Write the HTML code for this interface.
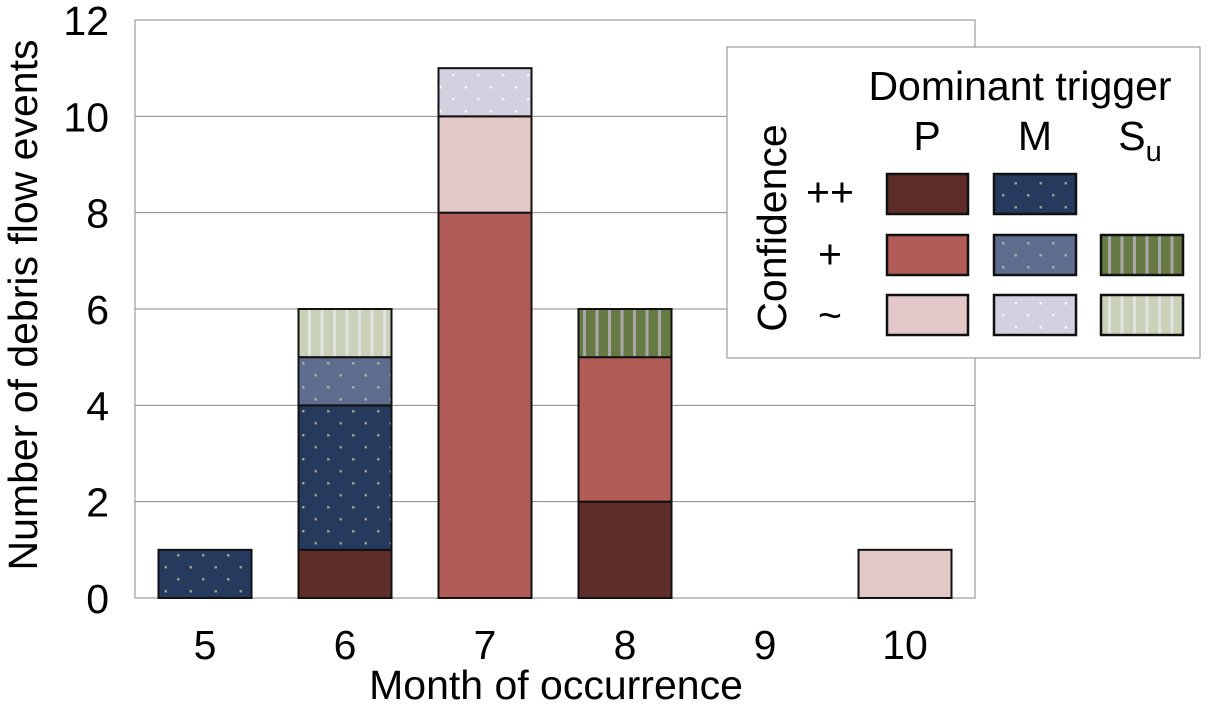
<!DOCTYPE html>
<html><head><meta charset="utf-8">
<style>
body{margin:0;background:#fff;}
svg{display:block;font-family:"Liberation Sans",Arial,sans-serif;}
</style></head>
<body>
<svg id="chart" width="1215" height="705" viewBox="0 0 1215 705">
<defs>
  <pattern id="dotDark" width="25" height="24" patternUnits="userSpaceOnUse">
    <rect width="25" height="24" fill="#263a5e"/>
    <rect x="2" y="2" width="2.5" height="2.5" fill="#9a9a8a"/>
    <rect x="14.5" y="14" width="2.5" height="2.5" fill="#9a9a8a"/>
  </pattern>
  <pattern id="dotMid" width="25" height="24" patternUnits="userSpaceOnUse">
    <rect width="25" height="24" fill="#5e6d8e"/>
    <rect x="2" y="2" width="2.5" height="2.5" fill="#a9a9a9"/>
    <rect x="14.5" y="14" width="2.5" height="2.5" fill="#a9a9a9"/>
  </pattern>
  <pattern id="dotLight" width="25" height="24" patternUnits="userSpaceOnUse">
    <rect width="25" height="24" fill="#d1d1e0"/>
    <rect x="2" y="2" width="2.5" height="2.5" fill="#f4f4f4"/>
    <rect x="14.5" y="14" width="2.5" height="2.5" fill="#f4f4f4"/>
  </pattern>
  <pattern id="stripeMid" width="12.5" height="10" patternUnits="userSpaceOnUse">
    <rect width="12.5" height="10" fill="#677a43"/>
    <rect x="8" width="3" height="10" fill="#a8a8a8"/>
  </pattern>
  <pattern id="stripeLight" width="12.5" height="10" patternUnits="userSpaceOnUse">
    <rect width="12.5" height="10" fill="#c9d2b8"/>
    <rect x="8" width="3" height="10" fill="#e2e2e2"/>
  </pattern>
</defs>
<g id="grid"></g>
<g id="bars"></g>
<g id="axes"></g>
<g id="legend">
  <rect x="727" y="47" width="473" height="311" fill="#fff" stroke="#8a8a8a" stroke-width="1"/>
  <text x="1020" y="100" font-size="41" text-anchor="middle">Dominant trigger</text>
  <text x="927" y="150" font-size="41" text-anchor="middle">P</text>
  <text x="1035" y="150" font-size="41" text-anchor="middle">M</text>
  <text x="1140" y="150" font-size="41" text-anchor="middle">S<tspan font-size="29" dy="11">u</tspan></text>
  <text transform="translate(786,228) rotate(-90)" font-size="41" text-anchor="middle">Confidence</text>
  <text x="830" y="206" font-size="41" text-anchor="middle">++</text>
  <text x="830" y="268" font-size="41" text-anchor="middle">+</text>
  <text x="830" y="329" font-size="41" text-anchor="middle">~</text>
  <g stroke="#111" stroke-width="2.5">
    <rect x="887" y="174" width="81" height="40" fill="#5e2d2a"/>
    <rect x="994" y="174" width="82" height="40" fill="url(#dotDark)"/>
    <rect x="887" y="235" width="81" height="40" fill="#b25c58"/>
    <rect x="994" y="235" width="82" height="40" fill="url(#dotMid)"/>
    <rect x="1101" y="235" width="82" height="40" fill="url(#stripeMid)"/>
    <rect x="887" y="295" width="81" height="40" fill="#e2c9c8"/>
    <rect x="994" y="295" width="82" height="40" fill="url(#dotLight)"/>
    <rect x="1101" y="295" width="82" height="40" fill="url(#stripeLight)"/>
  </g>
</g>
<text x="556" y="699" font-size="41" text-anchor="middle">Month of occurrence</text>
<text transform="translate(37,305) rotate(-90)" font-size="41" text-anchor="middle">Number of debris flow events</text>
</svg>
<script>
const months = ["5","6","7","8","9","10"];
const pHigh = [0,1,0,2,0,0];
const pMed  = [0,0,8,3,0,0];
const pLow  = [0,0,2,0,0,1];
const mHigh = [1,3,0,0,0,0];
const mMed  = [0,1,0,0,0,0];
const mLow  = [0,0,1,0,0,0];
const sMed  = [0,0,0,1,0,0];
const sLow  = [0,1,0,0,0,0];
const yTicks = [0,2,4,6,8,10,12];

const NS="http://www.w3.org/2000/svg";
const X0=135,X1=975,Y0=598,Y1=20,YMAX=12;
const band=(X1-X0)/months.length, barW=93;
const y=v=>Y0-(v/YMAX)*(Y0-Y1);
const xc=i=>X0+band*(i+0.5);
function mk(tag,attrs,parent){const e=document.createElementNS(NS,tag);for(const k in attrs)e.setAttribute(k,attrs[k]);parent.appendChild(e);return e;}
const grid=document.getElementById('grid'),bars=document.getElementById('bars'),axes=document.getElementById('axes');
mk('rect',{x:X0,y:Y1,width:X1-X0,height:Y0-Y1,fill:'none',stroke:'#8a8a8a','stroke-width':1},grid);
yTicks.forEach(t=>{
  const l=mk('line',{x1:X0,x2:X1,y1:y(t),y2:y(t),stroke:'#8a8a8a','stroke-width':1},grid);
  
  
  const tx=mk('text',{x:X0-26,y:y(t)+15,'font-size':41,'text-anchor':'end'},axes);
  tx.textContent=t;
  
  
});
months.forEach((m,i)=>{
  const tx=mk('text',{x:xc(i),y:659,'font-size':41,'text-anchor':'middle'},axes);
  tx.textContent=m;
  
  
});
const series=[
  ['p-high',pHigh,'#5e2d2a'],['p-medium',pMed,'#b25c58'],['p-low',pLow,'#e2c9c8'],
  ['m-high',mHigh,'url(#dotDark)'],['m-medium',mMed,'url(#dotMid)'],['m-low',mLow,'url(#dotLight)'],
  ['s-medium',sMed,'url(#stripeMid)'],['s-low',sLow,'url(#stripeLight)']
];
months.forEach((m,i)=>{
  let base=0;
  series.forEach(([name,arr,fill])=>{
    const v=arr[i]; if(!v) return;
    const r=mk('rect',{x:xc(i)-barW/2,y:y(base+v),width:barW,height:y(base)-y(base+v),fill:fill,stroke:'#111','stroke-width':2},bars);
    
    
    base+=v;
  });
});
</script>
</body></html>
